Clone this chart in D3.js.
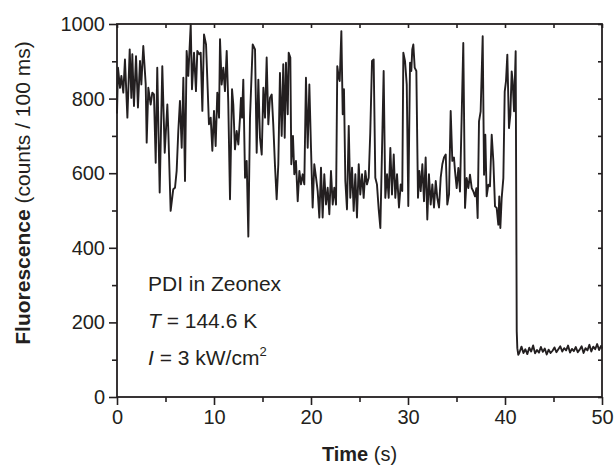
<!DOCTYPE html>
<html><head><meta charset="utf-8">
<script src="https://cdn.jsdelivr.net/npm/d3@7"></script>
<style>
html,body{margin:0;padding:0;background:#fff;}
svg text{font-family:"Liberation Sans",Arial,sans-serif;fill:#231f20;}
</style>
</head><body>
<svg id="chart" width="615" height="470"></svg>
<script>
// Time (s) and fluorescence counts per 100 ms
const times = [0.00,0.10,0.31,0.45,0.65,0.82,1.07,1.31,1.48,1.58,1.75,1.96,2.16,2.37,2.51,2.71,2.96,3.06,3.23,3.47,3.64,3.81,3.99,4.15,4.40,4.67,4.92,5.19,5.29,5.53,5.80,5.98,6.15,6.32,6.49,6.67,6.84,7.01,7.18,7.35,7.60,7.73,7.94,8.14,8.28,8.48,8.63,8.80,8.97,9.18,9.35,9.48,9.66,9.83,10.00,10.17,10.34,10.52,10.62,10.79,10.96,11.13,11.31,11.47,11.65,11.86,11.99,12.16,12.34,12.51,12.68,12.78,12.89,13.02,13.20,13.37,13.54,13.71,13.99,14.23,14.40,14.57,14.74,14.92,15.09,15.26,15.43,15.60,15.77,15.95,16.11,16.29,16.46,16.63,16.80,16.98,17.14,17.29,17.42,17.60,17.70,17.87,17.97,18.14,18.28,18.45,18.63,18.80,18.97,19.14,19.31,19.48,19.66,19.83,20.00,20.17,20.34,20.52,20.69,20.86,21.03,21.20,21.37,21.55,21.72,21.89,22.06,22.24,22.40,22.58,22.71,22.86,22.96,23.13,23.27,23.40,23.54,23.71,23.89,24.05,24.23,24.40,24.57,24.74,24.92,25.08,25.26,25.43,25.60,25.77,25.95,26.11,26.29,26.46,26.63,26.80,26.98,27.15,27.32,27.49,27.66,27.84,28.01,28.18,28.35,28.53,28.69,28.87,29.07,29.25,29.41,29.52,29.69,29.87,30.03,30.21,30.34,30.44,30.55,30.69,30.86,31.03,31.17,31.31,31.48,31.65,31.82,31.99,32.16,32.34,32.51,32.68,32.86,33.02,33.20,33.37,33.54,33.71,33.89,34.05,34.23,34.40,34.57,34.74,34.85,35.02,35.19,35.36,35.53,35.70,35.88,36.05,36.22,36.39,36.57,36.74,36.91,37.05,37.18,37.32,37.49,37.70,37.84,37.97,38.11,38.28,38.45,38.63,38.80,38.97,39.14,39.31,39.41,39.52,39.66,39.83,39.97,40.10,40.24,40.41,40.55,40.69,40.79,40.93,41.10,41.21,41.27,41.37,41.5,41.7,41.9,42.1,42.3,42.5,42.7,42.9,43.1,43.3,43.5,43.7,43.9,44.1,44.3,44.5,44.7,44.9,45.1,45.3,45.5,45.7,45.9,46.1,46.3,46.5,46.7,46.9,47.1,47.3,47.5,47.7,47.9,48.1,48.3,48.5,48.7,48.9,49.1,49.3,49.5,49.7,49.9,50.0];
const counts = [760,883,829,861,816,905,749,932,802,919,780,914,776,901,838,941,838,682,829,784,816,811,628,883,548,887,655,784,713,499,557,561,606,713,794,668,856,579,928,861,999,825,923,820,928,919,923,767,972,945,825,731,749,660,767,673,816,749,959,838,883,820,928,790,530,825,784,664,713,677,749,802,749,851,588,633,430,749,945,932,655,851,695,650,829,749,910,731,802,811,731,619,530,624,869,700,892,695,896,758,923,910,624,700,597,633,525,606,570,597,570,856,668,838,668,508,624,588,552,481,615,481,597,516,561,490,606,516,561,516,887,856,847,981,758,825,579,503,727,534,615,499,597,481,624,543,597,534,606,570,588,709,901,905,588,570,503,453,660,874,534,597,534,668,543,650,534,597,508,570,552,923,901,838,512,896,874,932,945,883,874,534,606,552,624,525,642,476,597,516,570,508,579,534,508,588,624,642,650,516,543,767,633,642,605,560,614,551,748,949,507,587,560,596,560,551,538,560,480,739,766,967,596,703,538,569,565,703,632,511,507,462,538,453,534,587,819,846,918,721,757,873,846,766,927,176,131,113,120,135,118,128,115,132,122,138,117,126,119,134,121,130,114,127,118,124,133,120,128,136,122,131,125,138,119,129,123,134,120,127,136,118,131,125,140,122,135,128,142,126,137,130];

const xMajor = [0,10,20,30,40,50];
const xMinor = [5,15,25,35,45];
const yMajor = [0,200,400,600,800,1000];
const yMinor = [100,300,500,700,900];
const annotLines = ["PDI in Zeonex","T = 144.6 K","I = 3 kW/cm2"];

const svg = d3.select("#chart");
const m = {l:117, t:24, r:13, b:73};
const W = 615 - m.l - m.r, H = 470 - m.t - m.b;
const g = svg.append("g").attr("transform",`translate(${m.l},${m.t})`);
const x = d3.scaleLinear().domain([0,50]).range([0,W]);
const y = d3.scaleLinear().domain([0,1000]).range([H,0]);

const fs = 20;
function styleAxis(sel){
  sel.selectAll(".domain").remove();
  sel.selectAll(".tick line").attr("stroke","#231f20").attr("stroke-width",1.6);
  sel.selectAll(".tick text").attr("font-size",fs).attr("fill","#231f20");
}
// bottom
g.append("g").attr("transform",`translate(0,${H})`).call(d3.axisBottom(x).tickValues(xMajor).tickSize(8).tickPadding(5).tickFormat(d3.format("d"))).call(styleAxis);
g.append("g").attr("transform",`translate(0,${H})`).call(d3.axisBottom(x).tickValues(xMinor).tickSize(5).tickFormat("")).call(styleAxis);
// left
g.append("g").call(d3.axisLeft(y).tickValues(yMajor).tickSize(8).tickPadding(4).tickFormat(d3.format("d"))).call(styleAxis);
g.append("g").call(d3.axisLeft(y).tickValues(yMinor).tickSize(5).tickFormat("")).call(styleAxis);
// top (inward)
g.append("g").call(d3.axisBottom(x).tickValues(xMajor.concat(xMinor)).tickSize(4).tickFormat("")).call(styleAxis);
// right (inward)
g.append("g").attr("transform",`translate(${W},0)`).call(d3.axisLeft(y).tickValues(yMajor.concat(yMinor)).tickSize(4).tickFormat("")).call(styleAxis);

// frame
g.append("rect").attr("x",0).attr("y",0).attr("width",W).attr("height",H)
 .attr("fill","none").attr("stroke","#231f20").attr("stroke-width",1.8);

// trace
const pts = times.map((t,i)=>[t,counts[i]]);
g.append("path").datum(pts)
 .attr("fill","none").attr("stroke","#231f20").attr("stroke-width",1.9).attr("stroke-linejoin","round")
 .attr("d", d3.line().x(d=>x(d[0])).y(d=>y(d[1])));

// axis titles
const xt = svg.append("text").attr("x", m.l + W/2).attr("y", 461).attr("text-anchor","middle").attr("font-size",fs);
xt.append("tspan").attr("font-weight","bold").text("Time");
xt.append("tspan").text(" (s)");
const yt = svg.append("text").attr("transform",`translate(30,193) rotate(-90)`).attr("text-anchor","middle").attr("font-size",21);
yt.append("tspan").attr("font-weight","bold").text("Fluorescence");
yt.append("tspan").text(" (counts / 100 ms)");

// annotation
const ax = 148, ay = 291, lh = 37;
svg.append("text").attr("x",ax).attr("y",ay).attr("font-size",21).text(annotLines[0]);
const t2 = svg.append("text").attr("x",ax).attr("y",ay+lh).attr("font-size",21);
t2.append("tspan").attr("font-style","italic").text("T");
t2.append("tspan").text(" = 144.6 K");
const t3 = svg.append("text").attr("x",ax).attr("y",ay+2*lh).attr("font-size",21);
t3.append("tspan").attr("font-style","italic").text("I");
t3.append("tspan").text(" = 3 kW/cm");
t3.append("tspan").attr("font-size",13).attr("dy",-9).text("2");
</script>
</body></html>
